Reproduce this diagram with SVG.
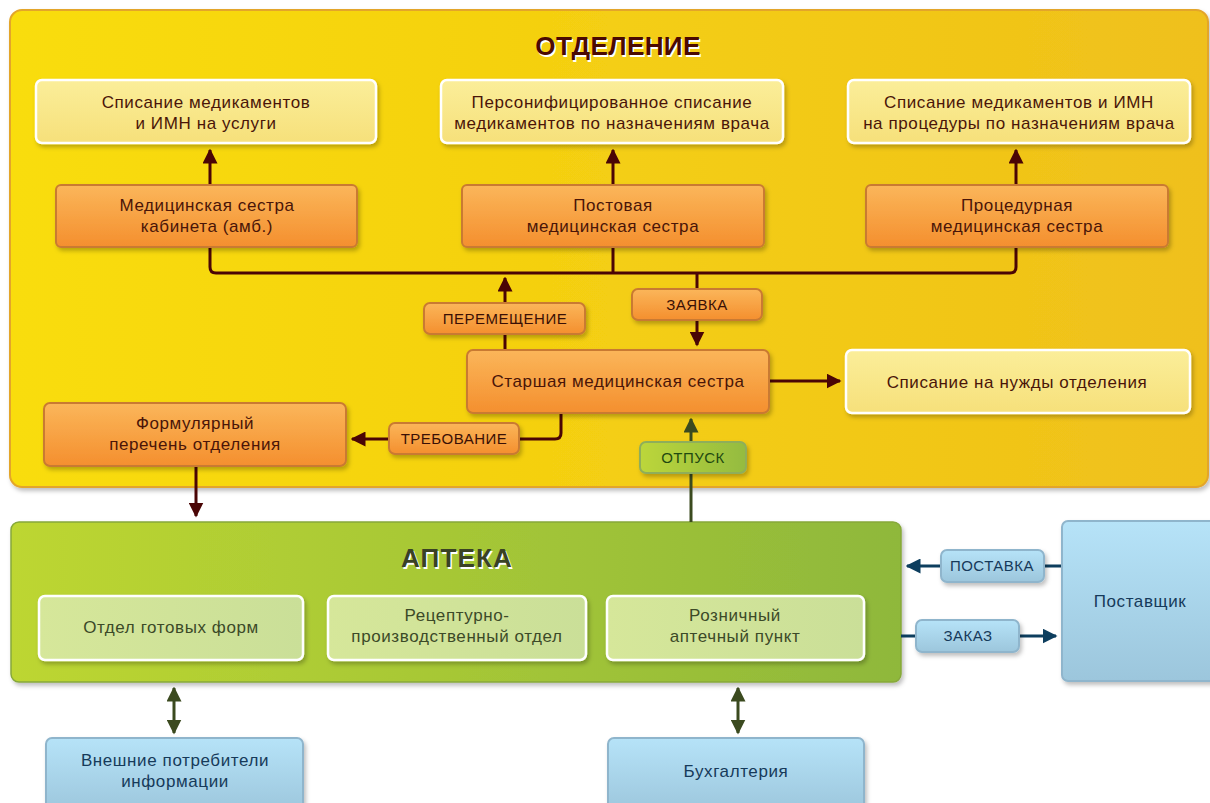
<svg xmlns="http://www.w3.org/2000/svg" width="1210" height="803" viewBox="0 0 1210 803">
<defs>
<linearGradient id="gY" x1="0" y1="0" x2="1" y2="0"><stop offset="0" stop-color="#f9dd08"/><stop offset="1" stop-color="#efc01c"/></linearGradient>
<linearGradient id="gG" x1="0" y1="0" x2="1" y2="0"><stop offset="0" stop-color="#bdd631"/><stop offset="1" stop-color="#8fb83b"/></linearGradient>
<linearGradient id="gO" x1="0" y1="0" x2="0" y2="1"><stop offset="0" stop-color="#fbb65a"/><stop offset="1" stop-color="#f48f2e"/></linearGradient>
<linearGradient id="gL" x1="0" y1="0" x2="0" y2="1"><stop offset="0" stop-color="#fbee9a"/><stop offset="1" stop-color="#f6e07a"/></linearGradient>
<linearGradient id="gB" x1="0" y1="0" x2="0" y2="1"><stop offset="0" stop-color="#b6e3f8"/><stop offset="1" stop-color="#9cc6dc"/></linearGradient>
<linearGradient id="gLG" x1="0" y1="0" x2="1" y2="0"><stop offset="0" stop-color="#d6e79a"/><stop offset="1" stop-color="#cadf98"/></linearGradient>
<linearGradient id="gGL" x1="0" y1="0" x2="1" y2="0"><stop offset="0" stop-color="#bcd63a"/><stop offset="1" stop-color="#94bb40"/></linearGradient>
<filter id="sh" x="-10%" y="-20%" width="120%" height="150%"><feDropShadow dx="2" dy="3" stdDeviation="2" flood-color="#000" flood-opacity="0.25"/></filter>
<marker id="aR" viewBox="0 0 10 10" refX="9" refY="5" markerWidth="5" markerHeight="5" orient="auto-start-reverse" markerUnits="strokeWidth"><path d="M0,0 L10,5 L0,10 z" fill="#4a0505"/></marker>
<marker id="aG" viewBox="0 0 10 10" refX="9" refY="5" markerWidth="5" markerHeight="5" orient="auto-start-reverse" markerUnits="strokeWidth"><path d="M0,0 L10,5 L0,10 z" fill="#3b4a1f"/></marker>
<marker id="aB" viewBox="0 0 10 10" refX="9" refY="5" markerWidth="5" markerHeight="5" orient="auto-start-reverse" markerUnits="strokeWidth"><path d="M0,0 L10,5 L0,10 z" fill="#0d3e5e"/></marker>
</defs>
<style>
text{font-family:"Liberation Sans",Arial,sans-serif;text-anchor:middle}
.t{font-size:17px;letter-spacing:0.6px;fill:#4a1508}
.tg{font-size:17px;letter-spacing:0.6px;fill:#3c4a28}
.tb{font-size:17px;letter-spacing:0.6px;fill:#163a5a}
.lbl{font-size:15px;letter-spacing:0.5px;fill:#3a1005}
.lblg{font-size:15px;letter-spacing:0.5px;fill:#1f4a10}
.lblb{font-size:15px;letter-spacing:0.5px;fill:#163a5a}
.lt{fill:url(#gL);stroke:#fff;stroke-width:2.5;filter:url(#sh)}
.or{fill:url(#gO);stroke:#c97a30;stroke-width:2;filter:url(#sh)}
.sub{fill:url(#gLG);stroke:#fff;stroke-width:2.5;filter:url(#sh)}
.bl{fill:url(#gB);stroke:#8fb5cc;stroke-width:2;filter:url(#sh)}
.glb{fill:url(#gGL);stroke:#8fae5a;stroke-width:2;filter:url(#sh)}
.cR{fill:none;stroke:#4a0505;stroke-width:3}
.cG{fill:none;stroke:#3b4a1f;stroke-width:3}
.cB{fill:none;stroke:#0d3e5e;stroke-width:3}
.title{font-size:26px;font-weight:bold;letter-spacing:0.4px}
.title2{font-size:26px;font-weight:bold;letter-spacing:1.2px}
</style>

<g id="otdelenie">
<rect x="10" y="10" width="1198" height="477" rx="12" fill="url(#gY)" stroke="#e3a52a" stroke-width="2" filter="url(#sh)"/>
<text x="618" y="55" class="title" fill="#fff" transform="translate(1.5,1.5)">ОТДЕЛЕНИЕ</text>
<text x="618" y="55" class="title" fill="#4a0a02">ОТДЕЛЕНИЕ</text>
</g>

<g id="apteka">
<rect x="11" y="522" width="890" height="160" rx="8" fill="url(#gG)" stroke="#86a83a" stroke-width="1.5" filter="url(#sh)"/>
<text x="457" y="567" class="title2" fill="#fff" transform="translate(1.5,1.5)">АПТЕКА</text>
<text x="457" y="567" class="title2" fill="#3a4224">АПТЕКА</text>
</g>

<g id="connectors">
<path class="cR" d="M210,185 V150" marker-end="url(#aR)"/>
<path class="cR" d="M613,185 V150" marker-end="url(#aR)"/>
<path class="cR" d="M1016,185 V150" marker-end="url(#aR)"/>
<path class="cR" d="M210,248 V267 Q210,273 216,273 H1010 Q1016,273 1016,267 V248"/>
<path class="cR" d="M613,248 V273"/>
<path class="cR" d="M505,350 V278" marker-end="url(#aR)"/>
<path class="cR" d="M697,273 V345" marker-end="url(#aR)"/>
<path class="cR" d="M770,381 H840" marker-end="url(#aR)"/>
<path class="cR" d="M561,414 V433 Q561,439 555,439 H352" marker-end="url(#aR)"/>
<path class="cR" d="M196,467 V516" marker-end="url(#aR)"/>
<path class="cG" d="M691,522 V419" marker-end="url(#aG)"/>
<path class="cG" d="M174,688 V733" marker-start="url(#aG)" marker-end="url(#aG)"/>
<path class="cG" d="M738,688 V733" marker-start="url(#aG)" marker-end="url(#aG)"/>
<path class="cB" d="M1062,566 H907" marker-end="url(#aB)"/>
<path class="cB" d="M901,636 H1056" marker-end="url(#aB)"/>
</g>

<g id="n-spisanie-uslugi"><rect class="lt" x="36" y="80" width="340" height="63" rx="6"/><text class="t" x="206" y="108">Списание медикаментов</text><text class="t" x="206" y="129">и ИМН на услуги</text></g>
<g id="n-personif"><rect class="lt" x="441" y="80" width="342" height="63" rx="6"/><text class="t" x="612" y="108">Персонифицированное списание</text><text class="t" x="612" y="129">медикаментов по назначениям врача</text></g>
<g id="n-procedury"><rect class="lt" x="848" y="80" width="342" height="63" rx="6"/><text class="t" x="1019" y="108">Списание медикаментов и ИМН</text><text class="t" x="1019" y="129">на процедуры по назначениям врача</text></g>

<g id="n-ms-kab"><rect class="or" x="56" y="185" width="301" height="62" rx="5"/><text class="t" x="207" y="211">Медицинская сестра</text><text class="t" x="207" y="232">кабинета (амб.)</text></g>
<g id="n-postovaya"><rect class="or" x="462" y="185" width="302" height="62" rx="5"/><text class="t" x="613" y="211">Постовая</text><text class="t" x="613" y="232">медицинская сестра</text></g>
<g id="n-procedurnaya"><rect class="or" x="866" y="185" width="302" height="62" rx="5"/><text class="t" x="1017" y="211">Процедурная</text><text class="t" x="1017" y="232">медицинская сестра</text></g>

<g id="l-peremeschenie"><rect class="or" x="424" y="303" width="161" height="31" rx="6"/><text class="lbl" x="505" y="324">ПЕРЕМЕЩЕНИЕ</text></g>
<g id="l-zayavka"><rect class="or" x="632" y="289" width="130" height="31" rx="6"/><text class="lbl" x="697" y="310">ЗАЯВКА</text></g>

<g id="n-starshaya"><rect class="or" x="467" y="350" width="302" height="63" rx="6"/><text class="t" x="618" y="387">Старшая медицинская сестра</text></g>
<g id="n-nuzhdy"><rect class="lt" x="846" y="350" width="344" height="63" rx="6"/><text class="t" x="1017" y="388">Списание на нужды отделения</text></g>

<g id="l-trebovanie"><rect class="or" x="389" y="423" width="130" height="31" rx="6"/><text class="lbl" x="454" y="444">ТРЕБОВАНИЕ</text></g>
<g id="n-formular"><rect class="or" x="44" y="403" width="302" height="63" rx="6"/><text class="t" x="195" y="429">Формулярный</text><text class="t" x="195" y="450">перечень отделения</text></g>
<g id="l-otpusk"><rect class="glb" x="640" y="442" width="106" height="31" rx="6"/><text class="lblg" x="693" y="463">ОТПУСК</text></g>

<g id="n-gotovye"><rect class="sub" x="39" y="596" width="264" height="64" rx="6"/><text class="tg" x="171" y="633">Отдел готовых форм</text></g>
<g id="n-recept"><rect class="sub" x="328" y="596" width="258" height="64" rx="6"/><text class="tg" x="457" y="621">Рецептурно-</text><text class="tg" x="457" y="642">производственный отдел</text></g>
<g id="n-roznichny"><rect class="sub" x="607" y="596" width="257" height="64" rx="6"/><text class="tg" x="735" y="621">Розничный</text><text class="tg" x="735" y="642">аптечный пункт</text></g>

<g id="n-postavschik"><rect class="bl" x="1062" y="521" width="160" height="160" rx="6"/><text class="tb" x="1140" y="607">Поставщик</text></g>
<g id="l-postavka"><rect class="bl" x="941" y="550" width="103" height="32" rx="6"/><text class="lblb" x="992" y="571">ПОСТАВКА</text></g>
<g id="l-zakaz"><rect class="bl" x="916" y="620" width="103" height="32" rx="6"/><text class="lblb" x="968" y="641">ЗАКАЗ</text></g>

<g id="n-vneshnie"><rect class="bl" x="46" y="738" width="257" height="75" rx="6"/><text class="tb" x="175" y="766">Внешние потребители</text><text class="tb" x="175" y="787">информации</text></g>
<g id="n-buh"><rect class="bl" x="608" y="738" width="256" height="75" rx="6"/><text class="tb" x="736" y="777">Бухгалтерия</text></g>
</svg>
